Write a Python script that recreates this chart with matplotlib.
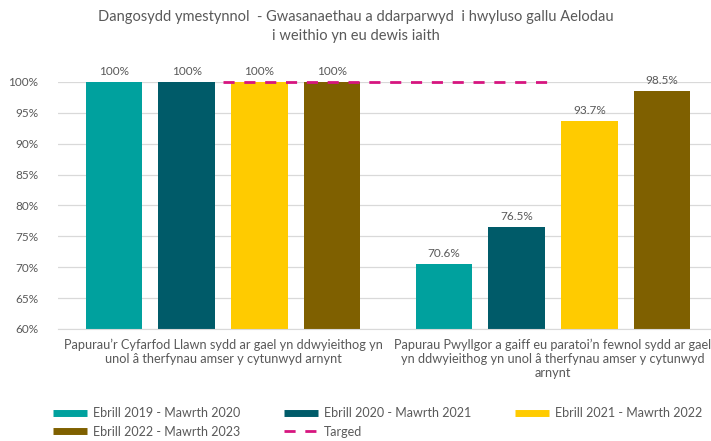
import numpy as np
import matplotlib.pyplot as plt
from matplotlib.lines import Line2D

plt.rcParams['font.family'] = ['Lato', 'DejaVu Sans']

categories = [
    "Papurau\u2019r Cyfarfod Llawn sydd ar gael yn ddwyieithog yn\nunol \u00e2 therfynau amser y cytunwyd arnynt",
    "Papurau Pwyllgor a gaiff eu paratoi\u2019n fewnol sydd ar gael\nyn ddwyieithog yn unol \u00e2 therfynau amser y cytunwyd\narnynt",
]
series_names = ["Ebrill 2019 - Mawrth 2020", "Ebrill 2020 - Mawrth 2021",
                "Ebrill 2021 - Mawrth 2022", "Ebrill 2022 - Mawrth 2023"]
v_2019 = [100.0, 70.6]
v_2020 = [100.0, 76.5]
v_2021 = [100.0, 93.7]
v_2022 = [100.0, 98.5]
target = [100.0, 100.0]
labels_2019 = ["100%", "70.6%"]
labels_2020 = ["100%", "76.5%"]
labels_2021 = ["100%", "93.7%"]
labels_2022 = ["100%", "98.5%"]

colors = ["#00A19E", "#005B69", "#FFCB00", "#7F6000"]
target_color = "#D6157F"
text_color = "#595959"

fig = plt.figure(figsize=(7.11, 4.41), dpi=100)
ax = fig.add_axes([58 / 711, 1 - 329 / 441, 653 / 711, 247 / 441])

x = np.arange(len(categories))
pitch = 0.22
width = 0.172
all_vals = [v_2019, v_2020, v_2021, v_2022]
all_labels = [labels_2019, labels_2020, labels_2021, labels_2022]
for i, (vals, labs) in enumerate(zip(all_vals, all_labels)):
    xs = x + (i - 1.5) * pitch
    ax.bar(xs, vals, width, color=colors[i], zorder=2)
    for xi, v, lab in zip(xs, vals, labs):
        ax.text(xi, v + 0.8, lab, ha="center", va="bottom",
                fontsize=8.5, color=text_color)

ax.plot(x, target, color=target_color, lw=2, dashes=(4, 3.5),
        zorder=3, clip_on=False)

ax.set_xlim(-0.5, -0.5 + 653 / 330)
ax.set_ylim(60, 100)
ax.set_yticks(np.arange(60, 101, 5))
ax.set_yticklabels([f"{t}%" for t in range(60, 101, 5)])
ax.yaxis.grid(True, color="#D9D9D9", lw=0.9, zorder=0)
ax.set_axisbelow(True)
ax.tick_params(axis="y", length=0, labelsize=8.5, labelcolor=text_color, pad=14)
ax.tick_params(axis="x", length=0)
ax.set_xticks([])
for s in ["top", "right", "left"]:
    ax.spines[s].set_visible(False)
ax.spines["bottom"].set_color("#D9D9D9")

cat_centers = [223 / 711, 553 / 711]
for cx, cat in zip(cat_centers, categories):
    fig.text(cx, 1 - 339 / 441, cat, ha="center", va="top", fontsize=9.2,
             color=text_color, linespacing=1.2)

fig.text(0.5, 1 - 10 / 441,
         "Dangosydd ymestynnol  - Gwasanaethau a ddarparwyd  i hwyluso gallu Aelodau\ni weithio yn eu dewis iaith",
         ha="center", va="top", fontsize=10.5, color=text_color, linespacing=1.45)

handles = [Line2D([], [], color=c, lw=5, solid_capstyle="butt") for c in colors]
target_handle = Line2D([], [], color=target_color, lw=2, dashes=(4, 3.5))
order_h = [handles[0], handles[3], handles[1], target_handle, handles[2]]
order_l = [series_names[0], series_names[3], series_names[1], "Targed", series_names[2]]
fig.legend(order_h, order_l, ncol=3, loc="upper left",
           bbox_to_anchor=(42 / 711, 1 - 396 / 441), frameon=False,
           fontsize=9, handlelength=2.7, handletextpad=0.5,
           columnspacing=3.5, labelcolor=text_color, labelspacing=0.5)

fig.savefig("out.png", dpi=100)
